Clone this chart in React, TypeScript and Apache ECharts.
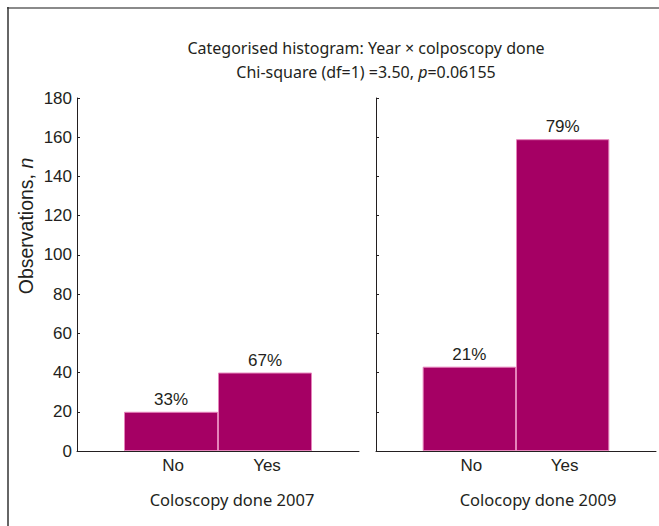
import React, { useEffect, useRef } from 'react';
import * as echarts from 'echarts';

// ---- data ----
const categories = ['No', 'Yes'];
const counts2007 = [20, 40];
const counts2009 = [43, 159];
const panelNames = ['Coloscopy done 2007', 'Colocopy done 2009'];
const titleLine1 = 'Categorised histogram: Year \u00d7 colposcopy done';
const chiPrefix = 'Chi-square (df=1) =3.50, ';
const pValue = '=0.06155';
const yAxisLabel = 'Observations, ';
const yMin = 0;
const yMax = 180;
const yStep = 20;

const panels = [counts2007, counts2009];

function percentLabels(values: number[]): string[] {
  const total = values.reduce((a, b) => a + b, 0);
  return values.map((v) => Math.round((v / total) * 100) + '%');
}

const ARIAL = 'Liberation Sans, Arial, Helvetica, sans-serif';
const HUM = 'Noto Sans, Open Sans, sans-serif';
const TEXT = '#231f20';
const BAR = '#a50064';
const BAR_EDGE = '#e583bb';

const gridDefs = [
  { left: 77, top: 98, width: 282, height: 353 },
  { left: 376, top: 98, width: 283, height: 353 },
];
const captionPadding = [
  [0, 0, 0, 28],
  [0, 0, 0, 44],
];

function buildOption(): echarts.EChartsOption {
  return {
    animation: false,
    backgroundColor: '#ffffff',
    grid: gridDefs.map((g) => ({ ...g, containLabel: false })),
    xAxis: panels.map((_, i) => ({
      type: 'value',
      gridIndex: i,
      min: 0,
      max: categories.length + 1,
      interval: 1,
      axisLine: { show: true, onZero: false, lineStyle: { color: TEXT, width: 1 } },
      axisTick: { show: false },
      splitLine: { show: false },
      axisLabel: {
        formatter: (v: number) => categories[v - 1] ?? '',
        fontSize: 17,
        fontFamily: ARIAL,
        color: TEXT,
        margin: 6,
        padding: [0, 0, 0, 4],
      },
      name: panelNames[i],
      nameLocation: 'middle',
      nameGap: 40,
      nameTextStyle: {
        fontSize: 16.5,
        fontFamily: HUM,
        color: TEXT,
        padding: captionPadding[i],
      },
    })) as any,
    yAxis: panels.map((_, i) => ({
      type: 'value',
      gridIndex: i,
      min: yMin,
      max: yMax,
      interval: yStep,
      axisLine: { show: true, lineStyle: { color: TEXT, width: 1 } },
      axisTick: { show: true, inside: true, length: 3, lineStyle: { color: TEXT } },
      splitLine: { show: false },
      axisLabel: {
        show: i === 0,
        fontSize: 17,
        fontFamily: ARIAL,
        color: TEXT,
        margin: 5,
      },
    })) as any,
    series: panels.map((values, i) => {
      const labels = percentLabels(values);
      return {
        type: 'bar',
        xAxisIndex: i,
        yAxisIndex: i,
        barWidth: '100%',
        data: values.map((v, j) => [j + 1, v]),
        itemStyle: { color: BAR, borderColor: BAR_EDGE, borderWidth: 1 },
        label: {
          show: true,
          position: 'top',
          distance: 4,
          fontSize: 17,
          fontFamily: ARIAL,
          color: TEXT,
          formatter: (p: any) => labels[p.dataIndex],
        },
      };
    }) as any,
    graphic: [
      {
        type: 'line',
        shape: { x1: 7, y1: 8, x2: 659, y2: 8 },
        style: { stroke: '#8a8a8a', lineWidth: 2 },
        silent: true,
      },
      {
        type: 'line',
        shape: { x1: 8, y1: 7, x2: 8, y2: 526 },
        style: { stroke: '#333333', lineWidth: 1.5 },
        silent: true,
      },
      {
        type: 'text',
        x: 366,
        y: 48,
        style: {
          text: titleLine1,
          align: 'center',
          verticalAlign: 'middle',
          fontSize: 16,
          fontFamily: HUM,
          fill: TEXT,
        },
      },
      {
        type: 'text',
        x: 366,
        y: 72,
        style: {
          text: `{a|${chiPrefix}}{i|p}{a|${pValue}}`,
          align: 'center',
          verticalAlign: 'middle',
          rich: {
            a: { fontSize: 16, fontFamily: HUM, fill: TEXT, color: TEXT },
            i: { fontSize: 16, fontFamily: HUM, fontStyle: 'italic', fill: TEXT, color: TEXT },
          },
        } as any,
      },
      {
        type: 'text',
        x: 26,
        y: 226,
        rotation: Math.PI / 2,
        style: {
          text: `{a|${yAxisLabel}}{i|n}`,
          align: 'center',
          verticalAlign: 'middle',
          rich: {
            a: { fontSize: 19.5, fontFamily: ARIAL, fill: TEXT, color: TEXT },
            i: { fontSize: 19.5, fontFamily: ARIAL, fontStyle: 'italic', fill: TEXT, color: TEXT },
          },
        } as any,
      },
    ],
  };
}

export default function App() {
  const ref = useRef<HTMLDivElement>(null);
  useEffect(() => {
    if (!ref.current) return;
    const chart = echarts.init(ref.current, undefined, { renderer: 'svg' });
    chart.setOption(buildOption());
    return () => chart.dispose();
  }, []);
  return (
    <div
      ref={ref}
      style={{ position: 'fixed', left: 0, top: 0, width: 659, height: 526, background: '#fff' }}
    />
  );
}
